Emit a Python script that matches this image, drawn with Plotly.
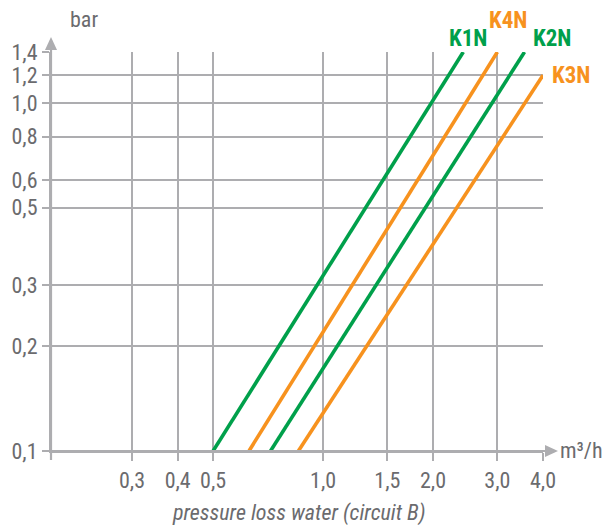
import math
import plotly.graph_objects as go

# Flow (m³/h) and pressure loss (bar) end points of each characteristic
series_names = ["K1N", "K4N", "K2N", "K3N"]
series_colors = ["#00a04b", "#f7921e", "#00a04b", "#f7921e"]
flow_values = [
    [0.5, 2.42],
    [0.627, 3.0],
    [0.718, 3.56],
    [0.856, 4.0],
]
pressure_values = [
    [0.1, 1.4],
    [0.1, 1.4],
    [0.1, 1.4],
    [0.1, 1.2],
]

x_ticks = [0.3, 0.4, 0.5, 1.0, 1.5, 2.0, 3.0, 4.0]
x_tick_text = ["0,3", "0,4", "0,5", "1,0", "1,5", "2,0", "3,0", "4,0"]
y_ticks = [0.1, 0.2, 0.3, 0.5, 0.6, 0.8, 1.0, 1.2, 1.4]
y_tick_text = ["0,1", "0,2", "0,3", "0,5", "0,6", "0,8", "1,0", "1,2", "1,4"]

GRID = "#adadb0"
TEXT = "#6b6b6e"
FONT = "Liberation Sans Narrow, Arial Narrow, Roboto Condensed, Liberation Sans, sans-serif"

W, H = 602, 526
L, R, T, B = 51, 59, 52, 75
pw, ph = W - L - R, H - T - B


def px_x(p):
    return (p - L) / pw


def px_y(p):
    return (H - B - p) / ph


fig = go.Figure()

for name, color, xs, ys in zip(series_names, series_colors, flow_values, pressure_values):
    fig.add_trace(go.Scatter(
        x=xs, y=ys, mode="lines", name=name,
        line=dict(color=color, width=3.6),
        showlegend=False, hoverinfo="skip",
    ))

# Series labels placed next to the upper end of each line
label_offsets = {"K1N": (5, 14), "K4N": (11, 32), "K2N": (27, 14), "K3N": (28, 0)}
for name, color, xs, ys in zip(series_names, series_colors, flow_values, pressure_values):
    dx, dy = label_offsets[name]
    fig.add_annotation(
        x=math.log10(xs[-1]), y=math.log10(ys[-1]), xref="x", yref="y",
        text=f"<b>{name}</b>", showarrow=False,
        xanchor="center", yanchor="middle",
        xshift=dx, yshift=dy,
        font=dict(family=FONT, size=23, color=color),
    )

shapes = [
    # axis extensions
    dict(type="line", xref="paper", yref="paper",
         x0=0, x1=0, y0=px_y(460), y1=px_y(47),
         line=dict(color=GRID, width=2.2)),
    dict(type="line", xref="paper", yref="paper",
         x0=px_x(44), x1=px_x(547), y0=0, y1=0,
         line=dict(color=GRID, width=2.2)),
    # arrow heads
    dict(type="path", xref="paper", yref="paper",
         path=f"M {px_x(45)} {px_y(50)} L {px_x(51)} {px_y(37)} L {px_x(57)} {px_y(50)} Z",
         fillcolor=GRID, line=dict(width=0)),
    dict(type="path", xref="paper", yref="paper",
         path=f"M {px_x(545)} {px_y(445)} L {px_x(558)} {px_y(451)} L {px_x(545)} {px_y(457)} Z",
         fillcolor=GRID, line=dict(width=0)),
]

fig.add_annotation(x=px_x(84), y=px_y(19), xref="paper", yref="paper",
                   text="bar", showarrow=False, xanchor="center", yanchor="middle",
                   font=dict(family=FONT, size=22, color=TEXT))
fig.add_annotation(x=px_x(581), y=px_y(450), xref="paper", yref="paper",
                   text="m³/h", showarrow=False, xanchor="center", yanchor="middle",
                   font=dict(family=FONT, size=22, color=TEXT))
fig.add_annotation(x=px_x(299), y=px_y(513), xref="paper", yref="paper",
                   text="<i>pressure loss water (circuit B)</i>", showarrow=False,
                   xanchor="center", yanchor="middle",
                   font=dict(family=FONT, size=22, color=TEXT))

fig.update_layout(
    width=W, height=H,
    margin=dict(l=L, r=R, t=T, b=B, pad=0),
    paper_bgcolor="white", plot_bgcolor="white",
    shapes=shapes,
    font=dict(family=FONT, size=22, color=TEXT),
)
fig.update_xaxes(
    type="log", range=[math.log10(0.18), math.log10(4.0)],
    tickvals=x_ticks, ticktext=x_tick_text,
    showgrid=True, gridcolor=GRID, gridwidth=2,
    showline=True, linecolor=GRID, linewidth=2.2,
    ticks="outside", ticklen=8, tickwidth=2, tickcolor=GRID,
    zeroline=False, tickfont=dict(family=FONT, size=22, color=TEXT),
)
fig.update_yaxes(
    type="log", range=[-1, math.log10(1.4)],
    tickvals=y_ticks, ticktext=y_tick_text,
    showgrid=True, gridcolor=GRID, gridwidth=2,
    showline=True, linecolor=GRID, linewidth=2.2,
    ticks="outside", ticklen=7, tickwidth=2, tickcolor=GRID,
    zeroline=False, tickfont=dict(family=FONT, size=22, color=TEXT),
)

fig.write_html("out.html")
